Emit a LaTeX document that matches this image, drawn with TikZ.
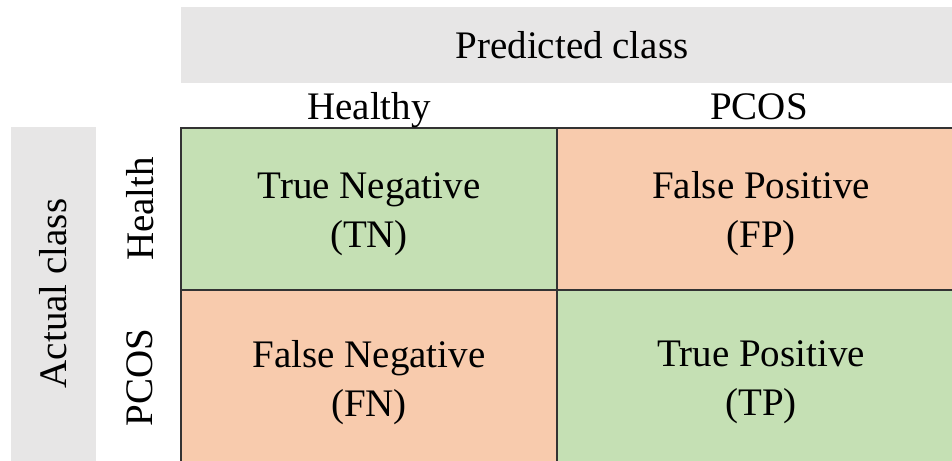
\documentclass[tikz,border=0pt]{standalone}
\usepackage{fontspec}
\setmainfont{Liberation Serif}
\usetikzlibrary{positioning}
\definecolor{cellgreen}{HTML}{C5E0B4}
\definecolor{cellorange}{HTML}{F8CBAD}
\definecolor{bandgrey}{HTML}{E7E6E6}
\tikzset{
  cell/.style={draw=black!80, line width=1.8pt, outer sep=0pt, inner sep=0pt,
    minimum width=376pt, minimum height=162pt},
  celltext/.style={align=center, inner sep=0pt},
  band/.style={fill=bandgrey, inner sep=0pt, outer sep=0pt},
}
\begin{document}
\begin{tikzpicture}[x=1pt,y=-1pt]
  \fontsize{39}{49}\selectfont
  \useasboundingbox (0,0) rectangle (952,460);
  \clip (0,0) rectangle (952,460);
  % grey bands
  \node[band, minimum width=782pt, minimum height=76pt, anchor=north west] (pred) at (181,7) {\raisebox{-2pt}{Predicted class}};
  \node[band, rotate=90, minimum width=334pt, minimum height=85pt] (actual) at (53.5,293.5) {Actual class};
  % the four cells
  \node[cell, fill=cellgreen, anchor=north west] (tn) at (181,128) {};
  \node[cell, fill=cellorange, minimum width=408pt, right=0pt of tn] (fp) {};
  \node[cell, fill=cellorange, minimum height=175pt, below=0pt of tn] (fn) {};
  \node[cell, fill=cellgreen, minimum width=408pt, minimum height=175pt, right=0pt of fn] (tp) {};
  \node[celltext] (tntext) at ([yshift=-5pt]tn.center) {True Negative\\(TN)};
  \node[celltext] (fptext) at ([yshift=-5pt]fp.center) {False Positive\\(FP)};
  \node[celltext] (fntext) at ([yshift=-5pt]fn.center) {False Negative\\(FN)};
  \node[celltext] (tptext) at ([yshift=-5pt]tp.center) {True Positive\\(TP)};
  % column and row labels
  \node[anchor=base] (colhealthy) at (369,119) {Healthy};
  \node[anchor=base] (colpcos) at (759,119) {PCOS};
  \node[rotate=90] (rowhealth) at ([xshift=-41pt]tn.west) {Health};
  \node[rotate=90] (rowpcos) at ([xshift=-41pt]fn.west) {PCOS};
\end{tikzpicture}
\end{document}
